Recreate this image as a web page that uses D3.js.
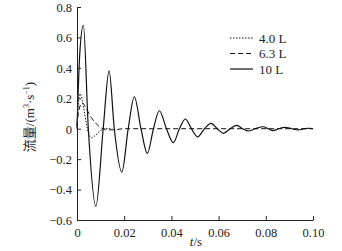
<!DOCTYPE html>
<html><head><meta charset="utf-8">
<script src="https://cdn.jsdelivr.net/npm/d3@7/dist/d3.min.js"></script>
<style>body{margin:0;background:#fff}svg{display:block}</style>
</head><body>
<svg id="c" width="342" height="251"></svg>
<script>
const xTicks = [0, 0.02, 0.04, 0.06, 0.08, 0.10];
const xTickLabels = ["0", "0.02", "0.04", "0.06", "0.08", "0.10"];
const yTicks = [-0.6, -0.4, -0.2, 0, 0.2, 0.4, 0.6, 0.8];
const yTickLabels = ["\u22120.6", "\u22120.4", "\u22120.2", "0", "0.2", "0.4", "0.6", "0.8"];
const seriesNames = ["4.0 L", "6.3 L", "10 L"];

// 4.0 L (dotted)
const s40 = [[0,0.02],[0.0005,0.15],[0.0013,0.23],[0.002,0.2],[0.003,0.12],[0.004,0.03],[0.005,-0.035],[0.0062,-0.06],[0.008,-0.04],[0.010,-0.012],[0.012,0],[0.015,0]];
// 6.3 L (dashed)
const s63 = [[0,0.02],[0.0008,0.12],[0.0022,0.17],[0.004,0.13],[0.006,0.075],[0.008,0.035],[0.010,0.008],[0.012,-0.004],[0.015,-0.008],[0.02,0],[0.10,0]];
// 10 L (solid): extrema and zero crossings
const s10 = [[0,0],[0.0012,0.5],[0.0027,0.68],[0.0048,0],[0.008,-0.51],[0.0111,0],[0.0136,0.38],[0.0158,0],[0.019,-0.285],[0.0217,0],[0.0243,0.21],[0.0271,0],[0.0298,-0.162],[0.0324,0],[0.0349,0.118],[0.0379,0],[0.0408,-0.092],[0.0434,0],[0.0459,0.064],[0.0485,0],[0.0511,-0.053],[0.054,0],[0.0568,0.035],[0.0594,0],[0.062,-0.03],[0.0649,0],[0.0677,0.022],[0.0702,0],[0.0726,-0.015],[0.0755,0],[0.079,0.013],[0.081,0],[0.083,-0.013],[0.0855,0],[0.088,0.009],[0.091,0],[0.0936,-0.008],[0.0965,0],[0.098,0.003],[0.10,0]];

const svg = d3.select("#c");
const x = d3.scaleLinear().domain([0, 0.1]).range([77, 313]);
const y = d3.scaleLinear().domain([-0.6, 0.8]).range([220, 7]);
const font = "Liberation Serif";

const line = d3.line().x(d => x(d[0])).y(d => y(d[1])).curve(d3.curveMonotoneX);

const styles = [
  {data: s40, dash: "1.5,1.5", w: 1},
  {data: s63, dash: "5,3", w: 1},
  {data: s10, dash: null, w: 1.2}
];
styles.forEach(s => {
  svg.append("path").attr("d", line(s.data)).attr("fill", "none")
    .attr("stroke", "#111").attr("stroke-width", s.w)
    .attr("stroke-dasharray", s.dash);
});

const xa = svg.append("g").attr("transform", `translate(0,${y(-0.6)})`)
  .call(d3.axisBottom(x).tickValues(xTicks).tickFormat((d,i) => xTickLabels[i])
    .tickSizeInner(-4).tickSizeOuter(0).tickPadding(8));
const ya = svg.append("g").attr("transform", `translate(${x(0)},0)`)
  .call(d3.axisLeft(y).tickValues(yTicks).tickFormat((d,i) => yTickLabels[i])
    .tickSizeInner(-4).tickSizeOuter(0).tickPadding(5));
[xa, ya].forEach(a => {
  a.selectAll("path,line").attr("stroke", "#222").attr("stroke-width", 1);
  a.selectAll("text").style("font-family", font).style("font-size", "12.5px").attr("fill", "#222");
});
ya.selectAll(".tick text").attr("dy", "0.35em");

svg.append("text").attr("x", 196).attr("y", 246).attr("text-anchor", "middle")
  .style("font-family", font).style("font-size", "13px").attr("fill", "#222")
  .html('<tspan font-style="italic">t</tspan>/s');

const yl = svg.append("text").attr("transform", "translate(34,117) rotate(-90)")
  .attr("text-anchor", "middle").style("font-size", "13px").attr("fill", "#222")
  .style("font-family", font);
yl.append("tspan").style("font-family", "Noto Sans CJK SC").text("流量");
yl.append("tspan").text("/(m");
yl.append("tspan").style("font-size", "8px").attr("dy", -5).text("3");
yl.append("tspan").attr("dy", 5).text("·s");
yl.append("tspan").style("font-size", "8px").attr("dy", -5).text("\u22121");
yl.append("tspan").attr("dy", 5).text(")");

const lg = svg.append("g");
seriesNames.forEach((n, i) => {
  const yy = 38 + i * 15.5;
  lg.append("line").attr("x1", 230).attr("x2", 253).attr("y1", yy).attr("y2", yy)
    .attr("stroke", "#111").attr("stroke-width", styles[i].w)
    .attr("stroke-dasharray", styles[i].dash);
  lg.append("text").attr("x", 259).attr("y", yy).attr("dy", "0.35em")
    .style("font-family", font).style("font-size", "13px").attr("fill", "#222").text(n);
});
</script>
</body></html>
